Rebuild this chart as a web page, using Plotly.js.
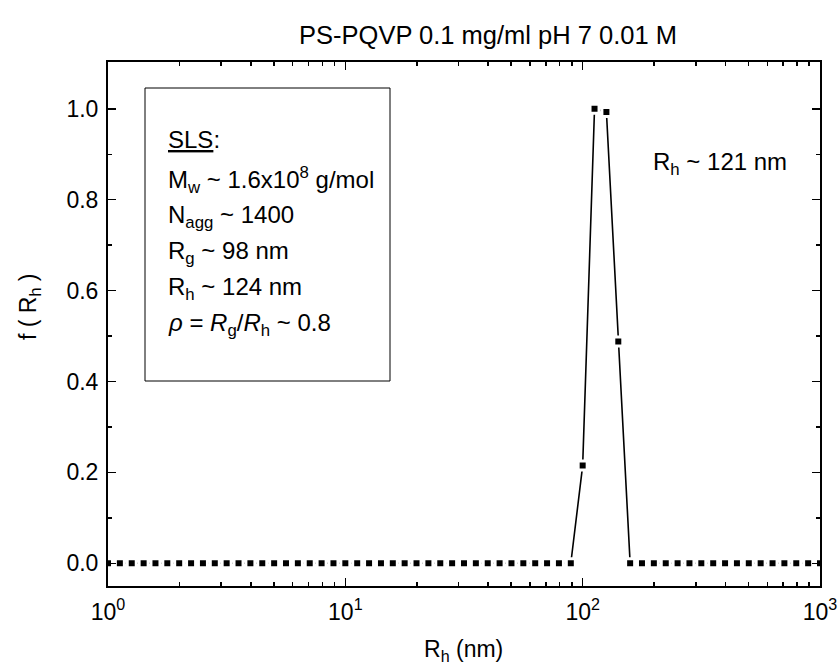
<!DOCTYPE html>
<html>
<head>
<meta charset="utf-8">
<script src="https://cdn.plot.ly/plotly-3.0.1.min.js"></script>
<style>html,body{margin:0;padding:0;background:#fff;}#chart{width:839px;height:666px;}</style>
</head>
<body>
<div id="chart"></div>
<script>
// Hydrodynamic radius grid (nm), 20 points per decade
const rh = [
  1.000, 1.122, 1.259, 1.413, 1.585, 1.778, 1.995, 2.239, 2.512, 2.818,
  3.162, 3.548, 3.981, 4.467, 5.012, 5.623, 6.310, 7.079, 7.943, 8.913,
  10.00, 11.22, 12.59, 14.13, 15.85, 17.78, 19.95, 22.39, 25.12, 28.18,
  31.62, 35.48, 39.81, 44.67, 50.12, 56.23, 63.10, 70.79, 79.43, 89.13,
  100.0, 112.2, 125.9, 141.3, 158.5, 177.8, 199.5, 223.9, 251.2, 281.8,
  316.2, 354.8, 398.1, 446.7, 501.2, 562.3, 631.0, 707.9, 794.3, 891.3,
  1000
];
// Distribution f(Rh)
const fRh = [
  0,0,0,0,0,0,0,0,0,0,
  0,0,0,0,0,0,0,0,0,0,
  0,0,0,0,0,0,0,0,0,0,
  0,0,0,0,0,0,0,0,0,0,
  0.215, 1.0, 0.993, 0.488, 0,0,0,0,0,0,
  0,0,0,0,0,0,0,0,0,0,
  0
];
const xTickVals = [1, 10, 100, 1000];
const xTickText = ['10<sup>0</sup>', '10<sup>1</sup>', '10<sup>2</sup>', '10<sup>3</sup>'];
const xMinorVals = [2,3,4,5,6,7,8,9,20,30,40,50,60,70,80,90,200,300,400,500,600,700,800,900];
const yTickVals = [0, 0.2, 0.4, 0.6, 0.8, 1.0];
const yTickText = ['0.0', '0.2', '0.4', '0.6', '0.8', '1.0'];
const yMinorVals = [0.1, 0.3, 0.5, 0.7, 0.9];
const titleText = 'PS-PQVP 0.1 mg/ml pH 7 0.01 M';
const xTitle = 'R<sub>h</sub> (nm)';
const yTitle = 'f ( R<sub>h</sub> )';
const boxLines = [
  '<u>SLS</u>:',
  'M<sub>w</sub> ~ 1.6x10<sup>8</sup> g/mol',
  'N<sub>agg</sub> ~ 1400',
  'R<sub>g</sub> ~ 98 nm',
  'R<sub>h</sub> ~ 124 nm',
  '<i>ρ</i> = <i>R</i><sub>g</sub>/<i>R</i><sub>h</sub> ~ 0.8'
];
const peakLabel = 'R<sub>h</sub> ~ 121 nm';

const FONT = 'Liberation Sans, Arial, sans-serif';

const trace = {
  x: rh, y: fRh, type: 'scatter', mode: 'lines+markers',
  line: {color: '#000', width: 1.6},
  marker: {symbol: 'square', size: 9, color: '#000', line: {color: '#fff', width: 3}},
  cliponaxis: true, showlegend: false, hoverinfo: 'skip'
};

// plot area pixel geometry
const L = 108, R = 19, T = 62, B = 80, W = 839, H = 666;
const pw = W - L - R, ph = H - T - B;
const px = (x) => (x - L) / pw;
const py = (y) => (H - B - y) / ph;

const lineY = [139, 180, 216, 252, 288, 324];
const annotations = boxLines.map((t, i) => ({
  text: t, xref: 'paper', yref: 'paper', x: px(166), y: py(lineY[i]),
  xanchor: 'left', yanchor: 'middle', showarrow: false, align: 'left',
  font: {family: FONT, size: 24, color: '#000'}
}));
annotations.push({
  text: peakLabel, xref: 'paper', yref: 'paper', x: px(651), y: py(163),
  xanchor: 'left', yanchor: 'middle', showarrow: false,
  font: {family: FONT, size: 24, color: '#000'}
});
annotations.push({
  text: xTitle, xref: 'paper', yref: 'paper', x: px(463), y: py(650),
  xanchor: 'center', yanchor: 'middle', showarrow: false,
  font: {family: FONT, size: 23, color: '#000'}
});
annotations.push({
  text: yTitle, xref: 'paper', yref: 'paper', x: px(29), y: py(307),
  xanchor: 'center', yanchor: 'middle', showarrow: false, textangle: -90,
  font: {family: FONT, size: 23, color: '#000'}
});

const layout = {
  width: W, height: H,
  margin: {l: L, r: R, t: T, b: B},
  paper_bgcolor: '#fff', plot_bgcolor: '#fff',
  font: {family: FONT, size: 23, color: '#000'},
  title: {text: titleText, font: {family: FONT, size: 25.5, color: '#000'},
          xref: 'paper', x: px(488), xanchor: 'center', yref: 'container', y: 1 - 35/H, yanchor: 'middle'},
  xaxis: {
    type: 'log', range: [0, 3], tickvals: xTickVals, ticktext: xTickText,
    ticks: 'inside', ticklen: 8, tickwidth: 1.5, tickcolor: '#000',
    showline: true, linecolor: '#000', linewidth: 2, mirror: 'ticks',
    showgrid: false, zeroline: false, ticklabelstandoff: 4,
    tickfont: {family: FONT, size: 23},
    minor: {tickvals: xMinorVals, ticks: 'inside', ticklen: 4, tickwidth: 1.5, tickcolor: '#000', showgrid: false}
  },
  yaxis: {
    range: [-0.05, 1.103], tickvals: yTickVals, ticktext: yTickText,
    ticks: 'inside', ticklen: 8, tickwidth: 1.5, tickcolor: '#000',
    showline: true, linecolor: '#000', linewidth: 2, mirror: 'ticks',
    showgrid: false, zeroline: false, ticklabelstandoff: 3,
    tickfont: {family: FONT, size: 23},
    minor: {tickvals: yMinorVals, ticks: 'inside', ticklen: 4, tickwidth: 1.5, tickcolor: '#000', showgrid: false}
  },
  shapes: [{
    type: 'rect', xref: 'paper', yref: 'paper',
    x0: px(145), x1: px(390), y0: py(381), y1: py(88),
    line: {color: '#000', width: 1}, fillcolor: 'rgba(0,0,0,0)'
  }],
  annotations: annotations
};

Plotly.newPlot('chart', [trace], layout, {displayModeBar: false, staticPlot: true});
</script>
</body>
</html>
